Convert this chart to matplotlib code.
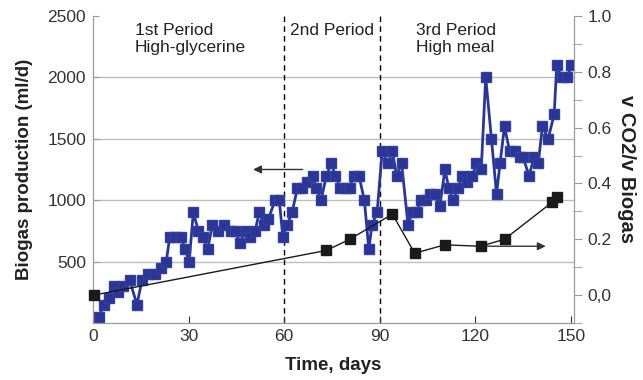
import numpy as np
import matplotlib.pyplot as plt
from matplotlib.ticker import FixedLocator

plt.rcParams['font.family'] = ['Liberation Sans', 'DejaVu Sans']

# biogas production (ml/d), left axis
biogas_days = [1.8, 3.5, 4.9, 6.6, 7.9, 9.4, 11.5, 13.8, 15.4, 17.3, 19.4, 21.3,
               23.0, 24.1, 25.8, 27.7, 28.9, 30.2, 31.5, 33.1, 34.4, 36.0, 37.5,
               39.1, 41.0, 43.4, 44.7, 46.2, 47.6, 49.4, 50.9, 52.2, 53.6, 55.1,
               57.2, 58.5, 59.6, 61.0, 62.5, 64.2, 65.6, 67.2, 69.0, 70.1, 71.6,
               73.3, 74.8, 76.1, 77.7, 79.3, 80.6, 81.9, 83.5, 85.2, 86.6, 87.6,
               89.2, 90.8, 92.6, 94.0, 95.3, 96.9, 98.9, 100.2, 101.6, 103.0,
               104.4, 105.8, 107.5, 108.9, 110.5, 111.7, 113.1, 114.7, 115.9,
               117.5, 119.1, 120.4, 121.9, 123.3, 125.1, 126.7, 127.8, 129.2,
               130.8, 132.4, 134.0, 135.0, 136.9, 138.5, 139.8, 141.1, 142.9,
               144.8, 145.6, 147.1, 148.9, 150.2]
biogas_ml = [50, 150, 200, 300, 250, 300, 350, 150, 350, 400, 400, 450,
             500, 700, 700, 700, 600, 500, 900, 750, 700, 600, 800,
             750, 800, 750, 750, 650, 750, 700, 750, 900, 800, 850,
             1000, 1000, 700, 800, 900, 1100, 1100, 1150, 1200, 1100, 1000,
             1200, 1300, 1200, 1100, 1100, 1100, 1200, 1200, 1000, 600, 800,
             900, 1400, 1300, 1400, 1200, 1300, 800, 900, 900, 1000,
             1000, 1050, 1050, 950, 1250, 1100, 1000, 1100, 1200,
             1150, 1200, 1300, 1250, 2000, 1500, 1050, 1300, 1600,
             1400, 1400, 1350, 1350, 1200, 1350, 1300, 1600, 1500,
             1700, 2100, 2000, 2000, 2100]

# CO2 fraction, right axis
co2_days = [0.3, 73.3, 80.6, 94.0, 101.0, 110.4, 121.7, 129.2, 144.2, 145.6]
co2_frac = [0.0, 0.16, 0.2, 0.29, 0.15, 0.18, 0.175, 0.2, 0.333, 0.35]

right_ticks = [0.0, 0.2, 0.4, 0.6, 0.8, 1.0]
right_labels = ['0,0', '0.2', '0.4', '0.6', '0.8', '1.0']

fig = plt.figure(figsize=(6.43, 3.80), dpi=100)
ax = fig.add_axes([0.1446, 0.15, 0.748, 0.808])
ax2 = ax.twinx()

gray = '#9a9a9a'
txt = '#333333'

ax.set_xlim(0, 151)
ax.set_ylim(0, 2500)
ax.set_xticks([0, 30, 60, 90, 120, 150])
ax.set_yticks([500, 1000, 1500, 2000, 2500])
for v in [500, 1000, 1500, 2000]:
    ax.axhline(v, color='#bdbdbd', lw=1, zorder=0)
for d in [60, 90]:
    ax.axvline(d, color='black', lw=1, ls=(0, (4, 3)), zorder=1)

ax.plot(biogas_days, biogas_ml, color='#2a3596', lw=2, marker='s', ms=7.5,
        mec='#3340a0', zorder=3)

ax2.set_ylim(-0.1, 1.0)
ax2.yaxis.set_major_locator(FixedLocator(right_ticks))
ax2.set_yticklabels(right_labels)
ax2.yaxis.set_minor_locator(FixedLocator(np.arange(-0.1, 1.0, 0.2)))
ax2.plot(co2_days, co2_frac, color='#1a1a1a', lw=1, marker='s', ms=7.5,
         clip_on=False, zorder=4)

# arrows pointing to the relevant axis
ax.annotate('', xy=(49.4, 1250), xytext=(66.7, 1250),
            arrowprops=dict(arrowstyle='-|>', color='#333333', lw=1, mutation_scale=12))
ax2.annotate('', xy=(143, 0.175), xytext=(121.7, 0.175),
             arrowprops=dict(arrowstyle='-|>', color='#333333', lw=1, mutation_scale=12))

ax.text(13.2, 2440, '1st Period\nHigh-glycerine', fontsize=12.5, color='#222222',
        ha='left', va='top', linespacing=1.1)
ax.text(62.0, 2440, '2nd Period', fontsize=12.5, color='#222222', ha='left', va='top')
ax.text(101.3, 2440, '3rd Period\nHigh meal', fontsize=12.5, color='#222222',
        ha='left', va='top', linespacing=1.1)

for a in (ax, ax2):
    for s in a.spines.values():
        s.set_color(gray)
ax2.spines['top'].set_visible(False)
ax.spines['top'].set_visible(False)

ax.tick_params(axis='x', direction='in', length=5, color='#333333', labelsize=12.5,
               labelcolor=txt, pad=4)
ax.tick_params(axis='y', direction='in', length=4, color=gray, labelsize=12.5,
               labelcolor=txt, pad=5)
ax2.tick_params(axis='y', which='both', direction='out', length=6, color=gray,
                labelsize=12.5, labelcolor=txt)

ax.set_xlabel('Time, days', fontsize=13.5, fontweight='bold', color='#222222', labelpad=10)
ax.set_ylabel('Biogas production (ml/d)', fontsize=13.5, fontweight='bold',
              color='#222222', labelpad=10)
ax2.set_ylabel('v CO2/v Biogas', fontsize=14.5, fontweight='bold', color='#222222',
               rotation=270, labelpad=18)

fig.savefig('out.png', dpi=100)
